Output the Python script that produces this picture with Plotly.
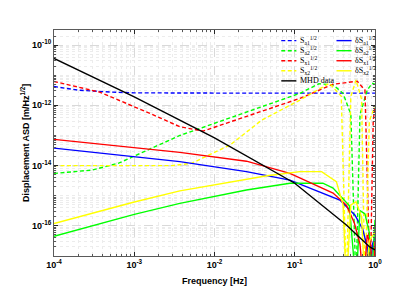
import plotly.graph_objects as go

# ---- data ----
f_mhd = [1e-4, 1e-3, 1e-2, 1e-1, 0.44, 0.86, 1.0]
v_mhd = [3.6e-11, 1.9e-12, 8.3e-14, 2.6e-15, 1.07e-16, 2.0e-17, 1.6e-17]

f_sa1 = [1e-4, 2e-4, 5e-4, 1e-3, 1e-2, 1e-1, 1.0]
v_sa1 = [4.2e-12, 3.2e-12, 2.75e-12, 2.6e-12, 2.55e-12, 2.55e-12, 2.55e-12]

f_sa2 = [1e-4, 3e-4, 6.5e-4, 1.57e-3, 3.7e-3, 0.116, 0.2, 0.3, 0.4, 0.5, 0.58, 0.65, 0.8, 0.92, 1.0]
v_sa2 = [5.5e-15, 7.1e-15, 1.23e-14, 3.5e-14, 1.0e-13, 2.5e-12, 5.2e-12, 4.8e-12, 2.5e-12, 5e-13, 1e-18, 5e-13, 3.2e-12, 5.4e-12, 5e-12]

f_sx1 = [1e-4, 3.7e-4, 1.57e-3, 3.7e-3, 7.2e-3, 0.116, 0.3, 0.6, 0.75, 0.87, 0.95, 1.0]
v_sx1 = [6.2e-12, 2.75e-12, 5.4e-13, 1.95e-13, 1.4e-13, 1.7e-12, 5.0e-12, 6.3e-12, 3.2e-12, 1e-18, 3e-13, 1e-12]

f_sx2 = [1e-4, 3e-3, 5.2e-3, 0.0156, 0.0386, 0.116, 0.27, 0.38, 0.44, 0.5, 0.58, 0.68, 0.75, 0.85, 1.0]
v_sx2 = [1e-14, 1e-14, 1.2e-14, 4.8e-14, 3.2e-13, 1.5e-12, 5.4e-12, 2e-12, 1e-18, 2e-12, 6.9e-12, 1.6e-12, 1e-18, 3e-13, 1e-12]

f_dsa1 = [1e-4, 1e-3, 3.7e-3, 0.025, 0.087, 0.365, 0.56, 0.7, 0.8, 0.86, 0.93, 1.0]
v_dsa1 = [3.8e-14, 2.0e-14, 1.35e-14, 6.3e-15, 3.3e-15, 7.2e-16, 2.3e-16, 8e-17, 2e-17, 1e-18, 2.5e-17, 4e-17]

f_dsa2 = [1e-4, 1e-3, 3.7e-3, 0.025, 0.087, 0.224, 0.3, 0.48, 0.58, 0.65, 0.75, 0.85, 0.9, 1.0]
v_dsa2 = [4.5e-17, 2.4e-16, 5.6e-16, 1.55e-15, 2.6e-15, 2.6e-15, 1.8e-15, 4.6e-16, 1e-18, 3.2e-16, 2.5e-16, 6e-17, 1e-18, 1.6e-16]

f_dsx1 = [1e-4, 1e-3, 3.7e-3, 0.025, 0.087, 0.3, 0.44, 0.55, 0.65, 0.72, 0.8, 0.88, 0.95, 1.0]
v_dsx1 = [7.4e-14, 4.0e-14, 2.75e-14, 1.4e-14, 5.5e-15, 1.23e-15, 4.9e-16, 1.3e-16, 2.5e-17, 1e-18, 5e-17, 2.5e-17, 1e-18, 3e-17]

f_dsx2 = [1e-4, 1e-3, 3.7e-3, 0.015, 0.045, 0.116, 0.216, 0.33, 0.4, 0.44, 0.5, 0.58, 0.68, 0.75, 0.85, 1.0]
v_dsx2 = [1.2e-16, 6.2e-16, 1.45e-15, 2.8e-15, 4.6e-15, 6.3e-15, 6.3e-15, 2.95e-15, 5e-16, 1e-18, 5e-16, 6.3e-16, 2e-16, 1e-18, 3.2e-17, 6.3e-17]

x_tickvals = [1e-4, 1e-3, 1e-2, 1e-1, 1e0]
x_ticktext = ["10<sup>-4</sup>", "10<sup>-3</sup>", "10<sup>-2</sup>", "10<sup>-1</sup>", "10<sup>0</sup>"]
y_tickvals = [1e-16, 1e-14, 1e-12, 1e-10]
y_ticktext = ["10<sup>-16</sup>", "10<sup>-14</sup>", "10<sup>-12</sup>", "10<sup>-10</sup>"]

BLUE, GREEN, RED, YELLOW = "#0000ff", "#00ff00", "#ff0000", "#ffff00"
DASH = "4px,2.5px"

# (legend label, freq, values, colour, dash, legend column, legend row)
series = [
    ("S<sub>a1</sub><sup>1/2</sup>", f_sa1, v_sa1, BLUE, DASH, 0, 0),
    ("S<sub>a2</sub><sup>1/2</sup>", f_sa2, v_sa2, GREEN, DASH, 0, 1),
    ("S<sub>x1</sub><sup>1/2</sup>", f_sx1, v_sx1, RED, DASH, 0, 2),
    ("S<sub>x2</sub><sup>1/2</sup>", f_sx2, v_sx2, YELLOW, DASH, 0, 3),
    ("δS<sub>a1</sub><sup>1/2</sup>", f_dsa1, v_dsa1, BLUE, "solid", 1, 0),
    ("δS<sub>a2</sub><sup>1/2</sup>", f_dsa2, v_dsa2, GREEN, "solid", 1, 1),
    ("δS<sub>x1</sub><sup>1/2</sup>", f_dsx1, v_dsx1, RED, "solid", 1, 2),
    ("δS<sub>x2</sub><sup>1/2</sup>", f_dsx2, v_dsx2, YELLOW, "solid", 1, 3),
    ("MHD data", f_mhd, v_mhd, "#000000", "solid", 0, 4),
]

fig = go.Figure()
for name, fx, vy, col, dash, c, r in series:
    fig.add_trace(go.Scatter(x=fx, y=vy, mode="lines", name=name, showlegend=False,
                             line=dict(color=col, width=1.4, dash=dash)))

# manual two-column legend (paper coordinates)
col_x0 = [0.708, 0.880]
sample_len = 0.047
row_y0, row_dy = 0.953, 0.0445
for name, fx, vy, col, dash, c, r in series:
    yy = row_y0 - r * row_dy
    x0 = col_x0[c]
    fig.add_shape(type="line", xref="paper", yref="paper", x0=x0, x1=x0 + sample_len,
                  y0=yy, y1=yy, line=dict(color=col, width=1.4, dash=dash))
    fig.add_annotation(xref="paper", yref="paper", x=x0 + sample_len + 0.004, y=yy,
                       xanchor="left", yanchor="middle", text=name, showarrow=False,
                       font=dict(family="Liberation Serif", size=8, color="#000"))

tick_font = dict(family="Liberation Sans", size=9, color="#000", weight="bold")
title_font = dict(family="Liberation Sans", size=9, color="#000", weight="bold")

axis_common = dict(
    type="log", showline=True, linecolor="#5a5a5a", linewidth=1, mirror="ticks",
    ticks="inside", ticklen=4, tickcolor="#262626", automargin=False,
    showgrid=True, gridcolor="#d9d9d9", griddash="dash", gridwidth=0.8,
    zeroline=False, tickfont=tick_font,
    minor=dict(ticks="inside", ticklen=2, tickcolor="#555", showgrid=True,
               gridcolor="#ececec", griddash="dot", gridwidth=0.8, dtick="D1"),
)

fig.update_xaxes(**axis_common, range=[-4, 0], tickvals=x_tickvals, ticktext=x_ticktext)
fig.update_yaxes(**axis_common, range=[-17, -9.5], tickvals=y_tickvals, ticktext=y_ticktext)

# axis titles as annotations for exact placement
fig.add_annotation(xref="paper", yref="paper", x=0.5, y=-0.112, xanchor="center", yanchor="middle",
                   text="Frequency [Hz]", showarrow=False, font=title_font)
fig.add_annotation(xref="paper", yref="paper", x=-0.09, y=0.5, xanchor="center", yanchor="middle",
                   text="Displacement ASD [m/Hz<sup>1/2</sup>]", textangle=-90, showarrow=False,
                   font=title_font)

# page body has an 8px margin, so the figure is offset by (8, 8) in the window
fig.update_layout(
    width=407, height=293,
    margin=dict(l=46, r=40, t=22, b=45),
    plot_bgcolor="#ffffff", paper_bgcolor="#ffffff",
    showlegend=False,
)

fig.write_html("out.html")
